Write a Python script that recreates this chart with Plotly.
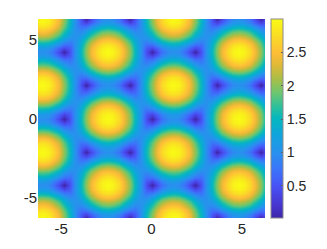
import plotly.graph_objects as go

x_values = [-6.65,-6.35,-6.05,-5.74,-5.44,-5.14,-4.84,-4.53,-4.23,-3.93,-3.63,-3.33,-3.02,-2.72,-2.42,-2.12,-1.81,-1.51,-1.21,-0.91,-0.60,-0.30,0,
            0.30,0.60,0.91,1.21,1.51,1.81,2.12,2.42,2.72,3.02,3.33,3.63,3.93,4.23,4.53,4.84,5.14,5.44,5.74,6.05,6.35,6.65]
y_values = [-6.283,-6.021,-5.760,-5.498,-5.236,-4.974,-4.712,-4.451,-4.189,-3.927,-3.665,-3.403,-3.142,-2.880,-2.618,-2.356,-2.094,-1.833,-1.571,-1.309,-1.047,-0.785,-0.524,-0.262,0,
            0.262,0.524,0.785,1.047,1.309,1.571,1.833,2.094,2.356,2.618,2.880,3.142,3.403,3.665,3.927,4.189,4.451,4.712,4.974,5.236,5.498,5.760,6.021,6.283]

band_0 = [.73,.93,1,.93,.73,.41,0,.48,1,1.52,2,2.41,2.73,2.93,3,2.93,2.73,2.41,2,1.52,1,.48,0,.41,.73,.93,1,.93,.73,.41,0,.48,1,1.52,2,2.41,2.73,2.93,3,2.93,2.73,2.41,2,1.52,1]
band_1 = [.89,1.08,1.14,1.08,.89,.62,.39,.56,1,1.49,1.96,2.37,2.68,2.88,2.95,2.88,2.68,2.37,1.96,1.49,1,.56,.39,.62,.89,1.08,1.14,1.08,.89,.62,.39,.56,1,1.49,1.96,2.37,2.68,2.88,2.95,2.88,2.68,2.37,1.96,1.49,1]
band_2 = [1.25,1.41,1.47,1.41,1.25,1,.77,.73,1,1.41,1.85,2.24,2.54,2.73,2.80,2.73,2.54,2.24,1.85,1.41,1,.73,.77,1,1.25,1.41,1.47,1.41,1.25,1,.77,.73,1,1.41,1.85,2.24,2.54,2.73,2.80,2.73,2.54,2.24,1.85,1.41,1]
band_3 = [1.64,1.80,1.86,1.80,1.64,1.39,1.11,.93,1,1.29,1.66,2.02,2.31,2.49,2.56,2.49,2.31,2.02,1.66,1.29,1,.93,1.11,1.39,1.64,1.80,1.86,1.80,1.64,1.39,1.11,.93,1,1.29,1.66,2.02,2.31,2.49,2.56,2.49,2.31,2.02,1.66,1.29,1]
band_4 = [2,2.18,2.24,2.18,2,1.73,1.41,1.13,1,1.13,1.41,1.73,2,2.18,2.24,2.18,2,1.73,1.41,1.13,1,1.13,1.41,1.73,2,2.18,2.24,2.18,2,1.73,1.41,1.13,1,1.13,1.41,1.73,2,2.18,2.24,2.18,2,1.73,1.41,1.13,1]
band_5 = [2.31,2.49,2.56,2.49,2.31,2.02,1.66,1.29,1,.93,1.11,1.39,1.64,1.80,1.86,1.80,1.64,1.39,1.11,.93,1,1.29,1.66,2.02,2.31,2.49,2.56,2.49,2.31,2.02,1.66,1.29,1,.93,1.11,1.39,1.64,1.80,1.86,1.80,1.64,1.39,1.11,.93,1]
band_6 = [2.54,2.73,2.80,2.73,2.54,2.24,1.85,1.41,1,.73,.77,1,1.25,1.41,1.47,1.41,1.25,1,.77,.73,1,1.41,1.85,2.24,2.54,2.73,2.80,2.73,2.54,2.24,1.85,1.41,1,.73,.77,1,1.25,1.41,1.47,1.41,1.25,1,.77,.73,1]
band_7 = [2.68,2.88,2.95,2.88,2.68,2.37,1.96,1.49,1,.56,.39,.62,.89,1.08,1.14,1.08,.89,.62,.39,.56,1,1.49,1.96,2.37,2.68,2.88,2.95,2.88,2.68,2.37,1.96,1.49,1,.56,.39,.62,.89,1.08,1.14,1.08,.89,.62,.39,.56,1]
band_8 = [2.73,2.93,3,2.93,2.73,2.41,2,1.52,1,.48,0,.41,.73,.93,1,.93,.73,.41,0,.48,1,1.52,2,2.41,2.73,2.93,3,2.93,2.73,2.41,2,1.52,1,.48,0,.41,.73,.93,1,.93,.73,.41,0,.48,1]

z_rows = [band_8,band_7,band_6,band_5,band_4,band_3,band_2,band_1,band_0,band_1,band_2,band_3,band_4,band_5,band_6,band_7,
          band_8,band_7,band_6,band_5,band_4,band_3,band_2,band_1,band_0,band_1,band_2,band_3,band_4,band_5,band_6,band_7,
          band_8,band_7,band_6,band_5,band_4,band_3,band_2,band_1,band_0,band_1,band_2,band_3,band_4,band_5,band_6,band_7,band_8]

axis_ticks = [-5, 0, 5]
axis_labels = ["-5", "0", "5"]
bar_ticks = [0.5, 1, 1.5, 2, 2.5]
bar_labels = ["0.5", "1", "1.5", "2", "2.5"]

parula = [[0, "rgb(62,38,168)"], [0.06, "rgb(70,52,205)"], [0.16, "rgb(72,82,244)"], [0.24, "rgb(60,115,250)"],
          [0.33, "rgb(40,145,238)"], [0.42, "rgb(15,165,220)"], [0.5, "rgb(5,183,190)"], [0.56, "rgb(45,192,155)"],
          [0.63, "rgb(110,198,110)"], [0.7, "rgb(170,190,70)"], [0.77, "rgb(225,185,55)"], [0.83, "rgb(254,190,55)"],
          [0.9, "rgb(250,215,40)"], [1, "rgb(249,251,20)"]]

TEXT = "#262626"
fig = go.Figure(go.Heatmap(
    x=x_values, y=y_values, z=z_rows, zsmooth="best", colorscale=parula, zmin=0.02, zmax=3.0,
    colorbar=dict(
        thicknessmode="pixels", thickness=12, lenmode="fraction", len=1,
        x=1.026, xanchor="left", xpad=0, y=0.5, yanchor="middle", ypad=0,
        tickvals=bar_ticks, ticktext=bar_labels, ticks="inside", ticklen=2, tickcolor="#555555",
        tickfont=dict(family="Liberation Sans", size=14, color=TEXT),
        outlinecolor="#8a8a8a", outlinewidth=1,
    ),
))
fig.update_layout(
    width=327, height=249, paper_bgcolor="white", plot_bgcolor="white",
    margin=dict(l=38, r=62, t=18.5, b=28), font=dict(family="Liberation Sans", size=14, color=TEXT),
)
fig.update_xaxes(range=[-6.283, 6.283], tickvals=axis_ticks, ticktext=axis_labels, ticks="", showgrid=False, zeroline=False,
                 tickfont=dict(size=15))
fig.update_yaxes(range=[-6.283, 6.283], tickvals=axis_ticks, ticktext=axis_labels, ticks="", showgrid=False, zeroline=False,
                 tickfont=dict(size=15))
fig.write_html("out.html", config={"displayModeBar": False}, post_script="document.body.style.margin='0';")
